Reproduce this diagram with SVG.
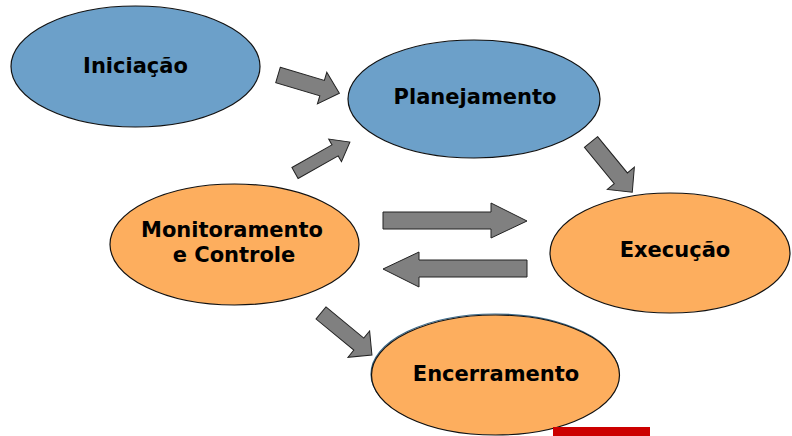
<svg xmlns="http://www.w3.org/2000/svg" width="792" height="436" viewBox="0 0 792 436">
<style>
.blue{fill:#6CA0C9;stroke:#111;stroke-width:1.2}
.orange{fill:#FDAE5E;stroke:#111;stroke-width:1.2}
.arr{fill:#808080;stroke:#222;stroke-width:1}
.lbl{font-family:"DejaVu Sans","Verdana",sans-serif;font-weight:bold;font-size:21px;fill:#000;text-anchor:middle}
</style>
<rect width="792" height="436" fill="#fff"/>
<g id="connectors">
<path class="arr" transform="translate(278,75) rotate(16.5)" d="M0,-8 L46,-8 L46,-16.5 L64,0 L46,16.5 L46,8 L0,8 Z"/>
<path class="arr" transform="translate(295,173) rotate(-29.4)" d="M0,-6.3 L46,-6.3 L46,-13 L63,0 L46,13 L46,6.3 L0,6.3 Z"/>
<path class="arr" transform="translate(591,142) rotate(50.6)" d="M0,-8.5 L47,-8.5 L47,-17.5 L65,0 L47,17.5 L47,8.5 L0,8.5 Z"/>
<path class="arr" d="M383,212 L491,212 L491,203 L527,221 L491,238 L491,229 L383,229 Z"/>
<path class="arr" d="M527,260 L419,260 L419,252 L383,269 L419,287 L419,277 L527,277 Z"/>
<path class="arr" transform="translate(321,313) rotate(39.5)" d="M0,-7.8 L49,-7.8 L49,-17 L66,0 L49,17 L49,7.8 L0,7.8 Z"/>
</g>
<g id="iniciacao">
<ellipse class="blue" cx="135.5" cy="66.5" rx="124.5" ry="60.5"/>
<text class="lbl" x="135.5" y="73">Iniciação</text>
</g>
<g id="planejamento">
<ellipse class="blue" cx="474" cy="99" rx="126" ry="59"/>
<text class="lbl" x="475" y="104">Planejamento</text>
</g>
<g id="execucao">
<ellipse class="orange" cx="670" cy="253" rx="120" ry="60"/>
<text class="lbl" x="675" y="257">Execução</text>
</g>
<g id="monitoramento">
<ellipse class="orange" cx="234.5" cy="244.5" rx="124.5" ry="60.5"/>
<text class="lbl" x="232" y="237">Monitoramento</text>
<text class="lbl" x="234" y="262">e Controle</text>
</g>
<g id="encerramento">
<ellipse cx="495" cy="374" rx="124" ry="60" fill="none" stroke="#3a6a8a" stroke-width="1.2"/>
<ellipse class="orange" cx="495.5" cy="375" rx="124" ry="60"/>
<text class="lbl" x="496" y="381">Encerramento</text>
</g>
<rect x="553" y="427" width="97" height="9" fill="#CC0000"/>
</svg>
